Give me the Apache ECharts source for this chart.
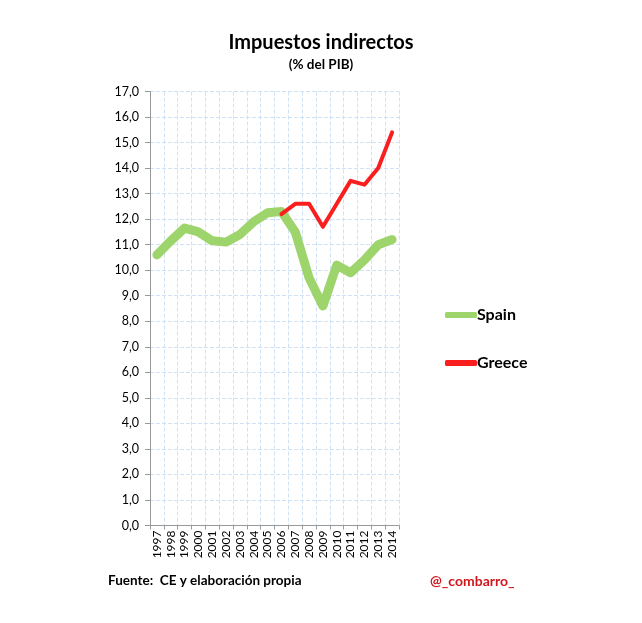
<!DOCTYPE html>
<html>
<head>
<meta charset="utf-8">
<script src="https://cdn.jsdelivr.net/npm/echarts@6/dist/echarts.min.js"></script>
<style>
  html, body { margin: 0; padding: 0; background: #fff; }
  #chart { width: 642px; height: 623px; }
</style>
</head>
<body>
<div id="chart"></div>
<script>
const years = ["1997", "1998", "1999", "2000", "2001", "2002", "2003", "2004", "2005",
  "2006", "2007", "2008", "2009", "2010", "2011", "2012", "2013", "2014"];

const spain = [10.6, 11.15, 11.65, 11.5, 11.15, 11.1, 11.4, 11.9, 12.25,
  12.3, 11.5, 9.7, 8.6, 10.2, 9.9, 10.4, 11.0, 11.2];

const greece = [null, null, null, null, null, null, null, null, null,
  12.2, 12.6, 12.6, 11.7, 12.6, 13.5, 13.35, 14.0, 15.4];

const font = "Lato, 'Open Sans', sans-serif";

const chart = echarts.init(document.getElementById("chart"));

chart.setOption({
  backgroundColor: "#fff",
  animation: false,
  textStyle: { fontFamily: font },
  title: [
    {
      text: "Impuestos indirectos",
      subtext: "(% del PIB)",
      left: 316,
      textAlign: "center",
      top: 28,
      itemGap: 5,
      textStyle: { fontSize: 20, fontWeight: "bold", color: "#000", fontFamily: font },
      subtextStyle: { fontSize: 13.5, fontWeight: "bold", color: "#000", fontFamily: font },
    },
    {
      text: "Fuente:  CE y elaboración propia",
      left: 103,
      top: 569,
      textStyle: { fontSize: 13.5, fontWeight: "bold", color: "#000", fontFamily: font },
    },
    {
      text: "@_combarro_",
      left: 425,
      top: 569,
      textStyle: { fontSize: 14, fontWeight: "bold", color: "#d0161c", fontFamily: font },
    },
  ],
  legend: {
    orient: "vertical",
    left: 440,
    top: 302,
    itemGap: 32,
    itemWidth: 32,
    itemHeight: 6,
    textStyle: { fontSize: 16, fontWeight: "bold", color: "#000", padding: [0, 0, 0, -5] },
    data: [
      { name: "Spain", icon: "roundRect" },
      { name: "Greece", icon: "roundRect" },
    ],
  },
  grid: {
    left: 150,
    right: 243,
    top: 91.5,
    bottom: 97.5,
  },
  xAxis: {
    type: "category",
    data: years,
    boundaryGap: true,
    axisLine: { lineStyle: { color: "#999", width: 1 } },
    axisTick: { show: true, length: 4, lineStyle: { color: "#999" } },
    axisLabel: { rotate: 90, fontSize: 12, color: "#000", margin: 5, interval: 0 },
    splitLine: { show: true, lineStyle: { color: "#cfe2f5", type: "dashed" } },
  },
  yAxis: {
    type: "value",
    min: 0,
    max: 17,
    interval: 1,
    axisLine: { show: true, lineStyle: { color: "#999", width: 1 } },
    axisTick: { show: true, length: 5, lineStyle: { color: "#999" } },
    axisLabel: {
      fontSize: 12.5,
      color: "#000",
      margin: 11,
      formatter: (v) => v.toFixed(1).replace(".", ","),
    },
    splitLine: { show: true, lineStyle: { color: "#cfe2f5", type: "dashed" } },
  },
  series: [
    {
      name: "Spain",
      type: "line",
      data: spain,
      symbol: "none",
      color: "#9dd46c",
      lineStyle: { color: "#9dd46c", width: 9, cap: "round", join: "round" },
    },
    {
      name: "Greece",
      type: "line",
      data: greece,
      symbol: "none",
      color: "#fa1e1e",
      lineStyle: { color: "#fa1e1e", width: 4, cap: "round", join: "round" },
    },
  ],
});
</script>
</body>
</html>
